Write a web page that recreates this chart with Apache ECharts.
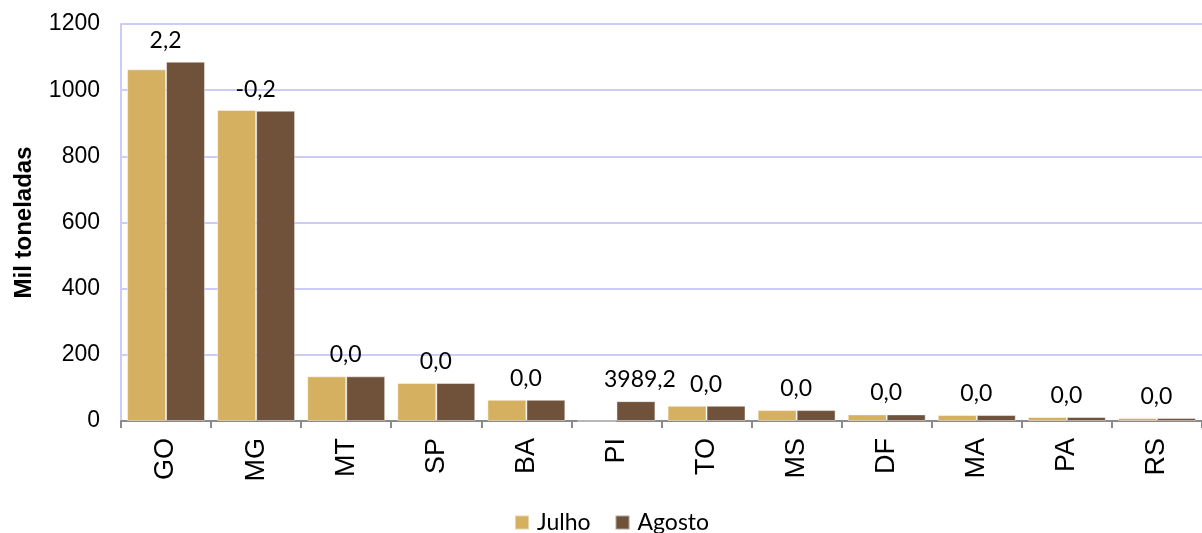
<!DOCTYPE html>
<html>
<head>
<meta charset="utf-8">
<script src="https://cdn.jsdelivr.net/npm/echarts@6/dist/echarts.min.js"></script>
<style>
html,body{margin:0;padding:0;background:#fff;}
#chart{width:1202px;height:533px;}
</style>
</head>
<body>
<div id="chart"></div>
<script>
const categories = ['GO','MG','MT','SP','BA','PI','TO','MS','DF','MA','PA','RS'];
const julho  = [1063, 940, 135, 115, 64, 0, 46, 33, 20, 18, 12, 9];
const agosto = [1086, 938, 135, 115, 64, 60, 46, 33, 20, 18, 12, 9];
const variacao = ['2,2','-0,2','0,0','0,0','0,0','3989,2','0,0','0,0','0,0','0,0','0,0','0,0'];
const yTicks = [0, 200, 400, 600, 800, 1000, 1200];

const chart = echarts.init(document.getElementById('chart'), null, {renderer:'canvas'});

const agostoData = agosto.map((v, i) => ({
  value: v,
  label: { offset: [categories[i] === 'PI' ? 4 : -20, 0] }
}));

chart.setOption({
  animation: false,
  backgroundColor: '#ffffff',
  grid: { left: 121, top: 24, width: 1091, height: 397, containLabel: false },
  legend: {
    left: 509, top: 506,
    itemWidth: 14, itemHeight: 14, itemGap: 24,
    icon: 'rect',
    textStyle: { fontFamily: 'Lato', fontSize: 23, color: '#000', padding: [0,0,0,3] },
    data: ['Julho', 'Agosto']
  },
  xAxis: {
    type: 'category',
    data: categories,
    boundaryGap: true,
    axisLine: { lineStyle: { color: '#8a8a8a', width: 2 } },
    axisTick: { show: true, length: 7, lineStyle: { color: '#8a8a8a', width: 2 } },
    axisLabel: { rotate: 90, margin: 17, fontFamily: 'Liberation Sans', fontSize: 27, color: '#000', interval: 0 },
    splitLine: { show: false }
  },
  yAxis: {
    type: 'value',
    min: yTicks[0], max: yTicks[yTicks.length - 1], interval: 200,
    name: 'Mil toneladas',
    nameLocation: 'middle',
    nameRotate: 90,
    nameGap: 85,
    nameTextStyle: { fontFamily: 'Liberation Sans', fontWeight: 'bold', fontSize: 24, color: '#000' },
    axisLine: { show: true, lineStyle: { color: '#ccccf8', width: 2 } },
    axisTick: { show: false },
    axisLabel: { margin: 21, fontFamily: 'Liberation Sans', fontSize: 23, color: '#000', formatter: v => String(v) },
    splitLine: { show: true, lineStyle: { color: '#ccccf8', width: 2 } }
  },
  series: [
    {
      name: 'Julho', type: 'bar', data: julho,
      barGap: '0%', barCategoryGap: '13.5%',
      itemStyle: { color: '#d4b060', borderColor: 'rgba(255,255,255,0.45)', borderWidth: 1 }
    },
    {
      name: 'Agosto', type: 'bar', data: agostoData,
      barGap: '0%', barCategoryGap: '13.5%',
      itemStyle: { color: '#70523a', borderColor: 'rgba(255,255,255,0.45)', borderWidth: 1 },
      label: {
        show: true, position: 'top', distance: 10,
        fontFamily: 'Lato', fontSize: 23, color: '#000',
        formatter: p => variacao[p.dataIndex]
      }
    }
  ]
});
</script>
</body>
</html>
